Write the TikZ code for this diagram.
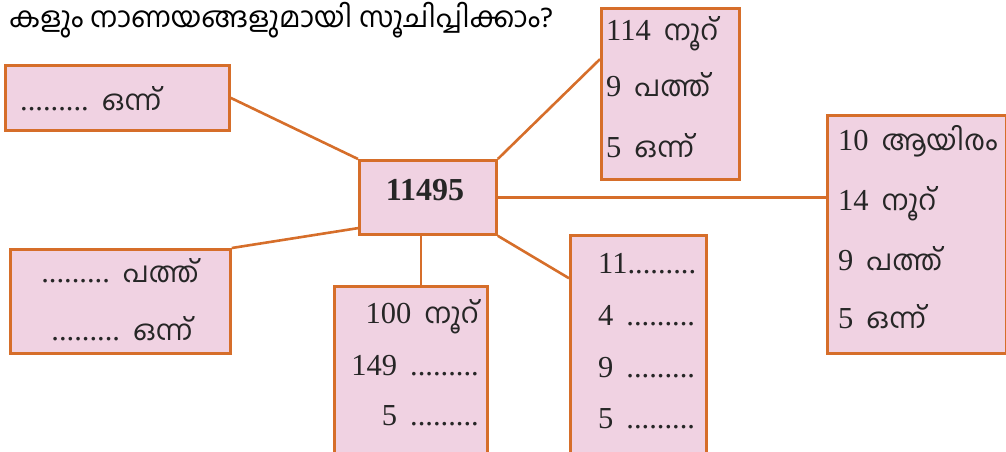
\documentclass[tikz,border=0pt]{standalone}
\usepackage{fontspec}
\setmainfont{Liberation Serif}
\newfontfamily\ml[Script=Malayalam]{Hind Kochi}
\usetikzlibrary{calc}
\definecolor{boxfill}{RGB}{240,210,226}
\definecolor{boxline}{RGB}{214,110,42}
\newcommand{\gp}{\hspace{13pt}}
\newcommand{\dd}{.........}
\newcommand{\mw}[1]{{\ml\fontsize{28.3}{28}\selectfont #1}}
\begin{document}
\begin{tikzpicture}[x=1pt,y=-1pt,
  box/.style={draw=boxline, fill=boxfill, line width=2.8pt, inner sep=0pt, anchor=north west},
  conn/.style={draw=boxline, line width=2.6pt},
  lbl/.style={font=\fontsize{30.5}{30}\selectfont, inner sep=0pt, anchor=base west, text=black!85},
  lblr/.style={lbl, anchor=base east},
  lblc/.style={lbl, anchor=base}]
\useasboundingbox (0,0) rectangle (1006,451);
\clip (0,0) rectangle (1006,451);
% title
\node[inner sep=0pt, anchor=base west, font=\ml\fontsize{28.5}{28}\selectfont] (title) at (9,27) {കളും നാണയങ്ങളുമായി സൂചിപ്പിക്കാം?};
% boxes
\node[box, minimum width=224pt, minimum height=65pt] (b1) at (4,64) {};
\node[box, minimum width=138pt, minimum height=171pt] (b2) at (600,7) {};
\node[box, minimum width=137pt, minimum height=74pt] (c) at (358,159) {};
\node[box, minimum width=179pt, minimum height=238pt] (r) at (826,114) {};
\node[box, minimum width=220pt, minimum height=104pt] (lb) at (9,248) {};
\node[box, minimum width=153pt, minimum height=180pt] (bm) at (333,285) {};
\node[box, minimum width=136pt, minimum height=230pt] (br) at (569,234) {};
% connectors
\coordinate (b2in) at ($(b2.north west)!0.3!(b2.south west)$);
\coordinate (cbot) at ($(c.south west)!0.45!(c.south east)$);
\coordinate (brin) at ($(br.north west)!0.19!(br.south west)$);
\draw[conn] (b1.east) -- (c.north west);
\draw[conn] (b2in) -- (c.north east);
\draw[conn] (c.east) -- (c.east -| r.west);
\draw[conn] ($(c.south west)!0.1!(c.north west)$) -- (lb.north east);
\draw[conn] (cbot) -- (cbot |- bm.north);
\draw[conn] (c.south east) -- (brin);
% texts
\node[inner sep=0pt, anchor=base, font=\bfseries\fontsize{32}{32}\selectfont, text=black!85] (ct) at (425,200) {11495};
\node[lbl] (t11) at (20,110) {\dd\gp\mw{ഒന്ന്}};
\node[lbl] (t21) at (606,40) {114\gp\mw{നൂറ്}};
\node[lbl] (t22) at (606,96) {9\gp\mw{പത്ത്}};
\node[lbl] (t23) at (606,157) {5\gp\mw{ഒന്ന്}};
\node[lbl] (r1) at (838,150) {10\gp\mw{ആയിരം}};
\node[lbl] (r2) at (838,210) {14\gp\mw{നൂറ്}};
\node[lbl] (r3) at (838,270) {9\gp\mw{പത്ത്}};
\node[lbl] (r4) at (838,328) {5\gp\mw{ഒന്ന്}};
\node[lblc] (l1) at (120,282) {\dd\gp\mw{പത്ത്}};
\node[lblc] (l2) at (122,340) {\dd\gp\mw{ഒന്ന്}};
\node[lblr] (m1) at (479,323) {100\gp\mw{നൂറ്}};
\node[lblr] (m2) at (479,375) {149\gp\dd};
\node[lblr] (m3) at (479,425) {5\gp\dd};
\node[lbl] (n1) at (598,273) {11\dd};
\node[lbl] (n2) at (598,325) {4\gp\dd};
\node[lbl] (n3) at (598,377) {9\gp\dd};
\node[lbl] (n4) at (598,428) {5\gp\dd};
\end{tikzpicture}
\end{document}
